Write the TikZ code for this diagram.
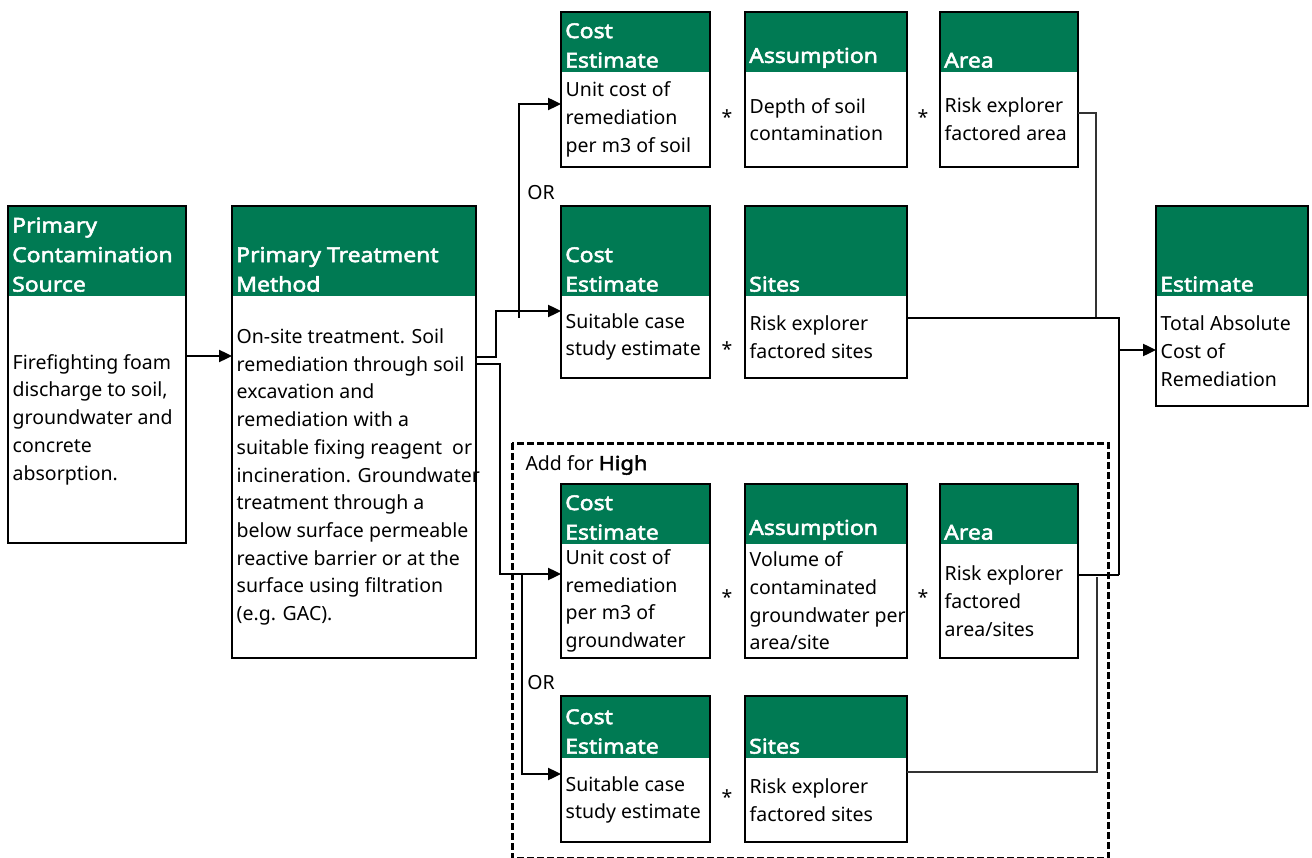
\documentclass[tikz,border=0pt]{standalone}
\usepackage{fontspec}
\setmainfont{Noto Sans}[BoldFont={Noto Sans},BoldFeatures={FakeBold=2.5,FakeStretch=1.12}]
\usetikzlibrary{arrows.meta}
\definecolor{boxgreen}{HTML}{007A53}

% one box: name, top-left corner, width, header height, body height, header, body
\newcommand{\rbox}[7]{%
  \node[hdr, minimum width=#3, minimum height=#4] (#1h) at #2 {};
  \node[hdrtext] (#1t) at (#1h.south west) {#6};
  \node[bodyrect, minimum width=#3, minimum height=#5] (#1) at (#1h.south west) {};
  \node[bodytext] (#1b) at (#1.west) {#7};
  \draw[boxline] (#1h.north west) rectangle (#1.south east);
}

\begin{document}
\begin{tikzpicture}[x=1pt,y=-1pt,
  hdr/.style={fill=boxgreen,inner sep=0,outer sep=0,anchor=north west},
  hdrtext/.style={anchor=south west,align=left,text=white,inner xsep=4pt,inner ysep=4pt,
    font=\fontsize{20.5}{29.5}\selectfont\bfseries},
  bodyrect/.style={inner sep=0,outer sep=0,anchor=north west},
  bodytext/.style={anchor=west,align=left,inner xsep=4.5pt,inner ysep=0,
    font=\fontsize{19.5}{27.7}\selectfont},
  boxline/.style={line width=2.2pt},
  lbl/.style={font=\fontsize{19.5}{22}\selectfont},
  arr/.style={line width=2.4pt,-{Triangle[length=13pt,width=12pt]}},
  sumline/.style={line width=1.6pt},
  thinsum/.style={line width=1.1pt,black!80},
  addbox/.style={line width=3pt,dash pattern=on 7pt off 3pt}
]
\useasboundingbox (0,0) rectangle (1312,858);

% left column
\rbox{src}{(8,206)}{178}{90}{247}{Primary\\Contamination\\Source}
  {Firefighting foam\\discharge to soil,\\groundwater and\\concrete\\absorption.}
\rbox{trt}{(232,206)}{244}{90}{362}{Primary Treatment\\Method}
  {On-site treatment. Soil\\remediation through soil\\excavation and\\remediation with a\\suitable fixing reagent~ or\\incineration. Groundwater\\treatment through a\\below surface permeable\\reactive barrier or at the\\surface using filtration\\(e.g. GAC).}

% soil rows
\rbox{ceA}{(561,12)}{149}{60}{95}{Cost\\Estimate}{Unit cost of\\remediation\\per m3 of soil}
\rbox{asA}{(745,12)}{162}{60}{95}{Assumption}{Depth of soil\\contamination}
\rbox{arA}{(940,12)}{138}{60}{95}{Area}{Risk explorer\\factored area}
\rbox{ceB}{(561,206)}{149}{90}{82}{Cost\\Estimate}{Suitable case\\study estimate}
\rbox{stB}{(745,206)}{162}{90}{82}{Sites}{Risk explorer\\factored sites}

% result
\rbox{est}{(1156,206)}{152}{90}{110}{Estimate}{Total Absolute\\Cost of\\Remediation}

% groundwater rows
\draw[addbox] (512,443) rectangle (1108,858);
\node[lbl,anchor=west] (add) at (522,465) {Add for \textbf{High}};
\rbox{ceC}{(561,484)}{149}{60}{114}{Cost\\Estimate}{Unit cost of\\remediation\\per m3 of\\groundwater}
\rbox{asC}{(745,484)}{162}{60}{114}{Assumption}{Volume of\\contaminated\\groundwater per\\area/site}
\rbox{arC}{(940,484)}{138}{60}{114}{Area}{Risk explorer\\factored\\area/sites}
\rbox{ceD}{(561,696)}{149}{62}{84}{Cost\\Estimate}{Suitable case\\study estimate}
\rbox{stD}{(745,696)}{162}{62}{84}{Sites}{Risk explorer\\factored sites}

% multiplication signs and OR labels
\node[lbl] (mA1) at (727,117) {*};
\node[lbl] (mA2) at (923,117) {*};
\node[lbl] (mB1) at (727,349) {*};
\node[lbl] (mC1) at (727,597) {*};
\node[lbl] (mC2) at (923,597) {*};
\node[lbl] (mD1) at (727,797) {*};
\node[lbl] (orA) at (541,193) {OR};
\node[lbl] (orC) at (541,683) {OR};

% arrows from the left
\draw[arr] (src.east |- 0,356) -- (trt.west |- 0,356);
\draw[arr] (trt.east |- 0,357) -- ++(20,0) |- (ceB.west |- 0,311);
\draw[arr] (519,318) |- (ceA.west |- 0,104);
\draw[arr] (trt.east |- 0,364) -- ++(24,0) |- (ceC.west |- 0,574);
\draw[arr] (522,574) |- (ceD.west |- 0,774);

% lines to the estimate
\draw[thinsum] (arA.east |- 0,113) -| (1096,318);
\draw[sumline] (stB.east |- 0,318) -| (1119,575);
\draw[sumline] (arC.east |- 0,575) -- (1119,575);
\draw[thinsum] (stD.east |- 0,772) -| (1097,577);
\draw[arr] (1119,350) -- (est.west |- 0,350);
\end{tikzpicture}
\end{document}
